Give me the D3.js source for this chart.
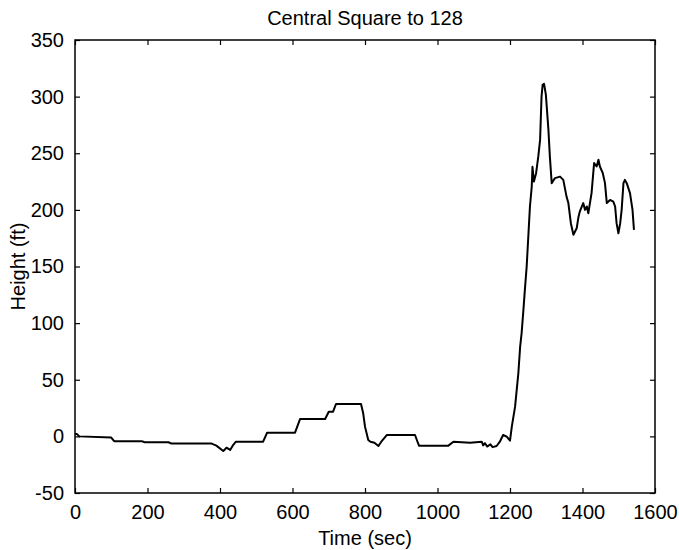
<!DOCTYPE html>
<html>
<head>
<meta charset="utf-8">
<script src="https://cdn.jsdelivr.net/npm/d3@7"></script>
<style>
  body { margin: 0; background: #fff; }
  text { font-family: "Liberation Sans", Arial, sans-serif; fill: #000; }
</style>
</head>
<body>
<svg id="chart"></svg>
<script>
// readings: time (sec) and height (ft)
const timeSec = [
    0, 5, 12, 100, 108, 184, 192, 258, 266, 377, 390, 409, 418, 428, 435, 444,
    519, 530, 607, 621, 690, 700, 712, 720, 789, 795, 800, 809, 815, 826,
    837, 845, 860, 938, 943, 949, 1030, 1044, 1090, 1122, 1126, 1131, 1137,
    1146, 1152, 1163, 1172, 1181, 1191, 1200, 1205, 1214, 1223, 1228, 1232,
    1237, 1241, 1246, 1251, 1255, 1260, 1262, 1266, 1272, 1278, 1283, 1287,
    1290, 1294, 1299, 1306, 1310, 1315, 1324, 1338, 1347, 1356, 1361, 1368,
    1375, 1384, 1389, 1393, 1402, 1407, 1412, 1416, 1425, 1432, 1439, 1444,
    1448, 1456, 1462, 1467, 1476, 1485, 1490, 1494, 1499, 1504, 1508, 1513,
    1517, 1522, 1531, 1538, 1540, 1542
];
const heightFt = [
    2, 2, 0, -1, -4.2, -4.2, -5.2, -5.2, -6.4, -6.4, -8.2, -12.9, -10, -12, -8.2, -4.7,
    -4.7, 3.3, 3.3, 15.4, 15.4, 21.8, 21.8, 28.6, 28.6, 20.4, 8.6, -3.2, -4.7, -5.6,
    -8.5, -4.7, 1.2, 1.2, -3.2, -8.2, -8.2, -4.7, -5.6, -4.7, -8, -6, -9,
    -7, -9.5, -8.5, -4.7, 1.2, -0.3, -3.8, 8.6, 26.2, 55.7, 79.2, 91,
    111.7, 129.3, 150, 179.4, 203, 220.6, 238, 225, 232.4, 247, 261.8, 300,
    310.4, 311.3, 301.6, 270.7, 247, 223.6, 228, 229.4, 226.5, 211.7, 206, 188,
    178, 183.8, 194, 199, 206, 200, 203, 197, 214.8, 241.3, 238.3, 244.2,
    238.3, 232.4, 223.6, 206, 208.8, 207.3, 203, 188.3, 179.4, 188.3, 200, 223.6,
    226.5, 223.6, 214.8, 200, 191, 182.3
];
const xTicks = [0, 200, 400, 600, 800, 1000, 1200, 1400, 1600];
const yTicks = [-50, 0, 50, 100, 150, 200, 250, 300, 350];

const width = 679, height = 550;
const margin = {top: 40, right: 24, bottom: 57, left: 75};
const fontSize = 20;
const plain = function (d) { return String(d); }; // keeps "-50" with a hyphen, no commas

const svg = d3.select("#chart")
    .attr("width", width)
    .attr("height", height);

const x = d3.scaleLinear().domain([0, 1600]).range([margin.left, width - margin.right]);
const y = d3.scaleLinear().domain([-50, 350]).range([height - margin.bottom, margin.top]);

// ticks point inward on all four sides, matlab style
function styleAxis(g) {
    g.select(".domain").remove();
    g.selectAll(".tick line").attr("stroke", "#000").attr("stroke-width", 1.2);
    g.selectAll(".tick text").style("font-size", fontSize + "px");
}

svg.append("g")
    .attr("transform", "translate(0," + y(-50) + ")")
    .call(d3.axisBottom(x).tickValues(xTicks).tickFormat(plain)
        .tickSizeInner(-5).tickSizeOuter(0).tickPadding(12))
    .call(styleAxis);

svg.append("g")
    .attr("transform", "translate(0," + y(350) + ")")
    .call(d3.axisTop(x).tickValues(xTicks).tickSizeInner(-5).tickSizeOuter(0).tickFormat(""))
    .call(styleAxis);

svg.append("g")
    .attr("transform", "translate(" + x(0) + ",0)")
    .call(d3.axisLeft(y).tickValues(yTicks).tickFormat(plain)
        .tickSizeInner(-5).tickSizeOuter(0).tickPadding(11))
    .call(styleAxis);

svg.append("g")
    .attr("transform", "translate(" + x(1600) + ",0)")
    .call(d3.axisRight(y).tickValues(yTicks).tickSizeInner(-5).tickSizeOuter(0).tickFormat(""))
    .call(styleAxis);

// box
svg.append("rect")
    .attr("x", x(0))
    .attr("y", y(350))
    .attr("width", x(1600) - x(0))
    .attr("height", y(-50) - y(350))
    .attr("fill", "none")
    .attr("stroke", "#000")
    .attr("stroke-width", 1.5);

// the trace
const points = timeSec.map(function (t, i) { return [t, heightFt[i]]; });
const line = d3.line()
    .x(function (d) { return x(d[0]); })
    .y(function (d) { return y(d[1]); });

svg.append("path")
    .datum(points)
    .attr("d", line)
    .attr("fill", "none")
    .attr("stroke", "#000")
    .attr("stroke-width", 2)
    .attr("stroke-linejoin", "round");

// labels
svg.append("text")
    .attr("x", (x(0) + x(1600)) / 2)
    .attr("y", 25)
    .attr("text-anchor", "middle")
    .style("font-size", fontSize + "px")
    .text("Central Square to 128");

svg.append("text")
    .attr("x", (x(0) + x(1600)) / 2)
    .attr("y", 545)
    .attr("text-anchor", "middle")
    .style("font-size", fontSize + "px")
    .text("Time (sec)");

svg.append("text")
    .attr("transform", "translate(25," + y(150) + ") rotate(-90)")
    .attr("text-anchor", "middle")
    .style("font-size", fontSize + "px")
    .text("Height (ft)");
</script>
</body>
</html>
